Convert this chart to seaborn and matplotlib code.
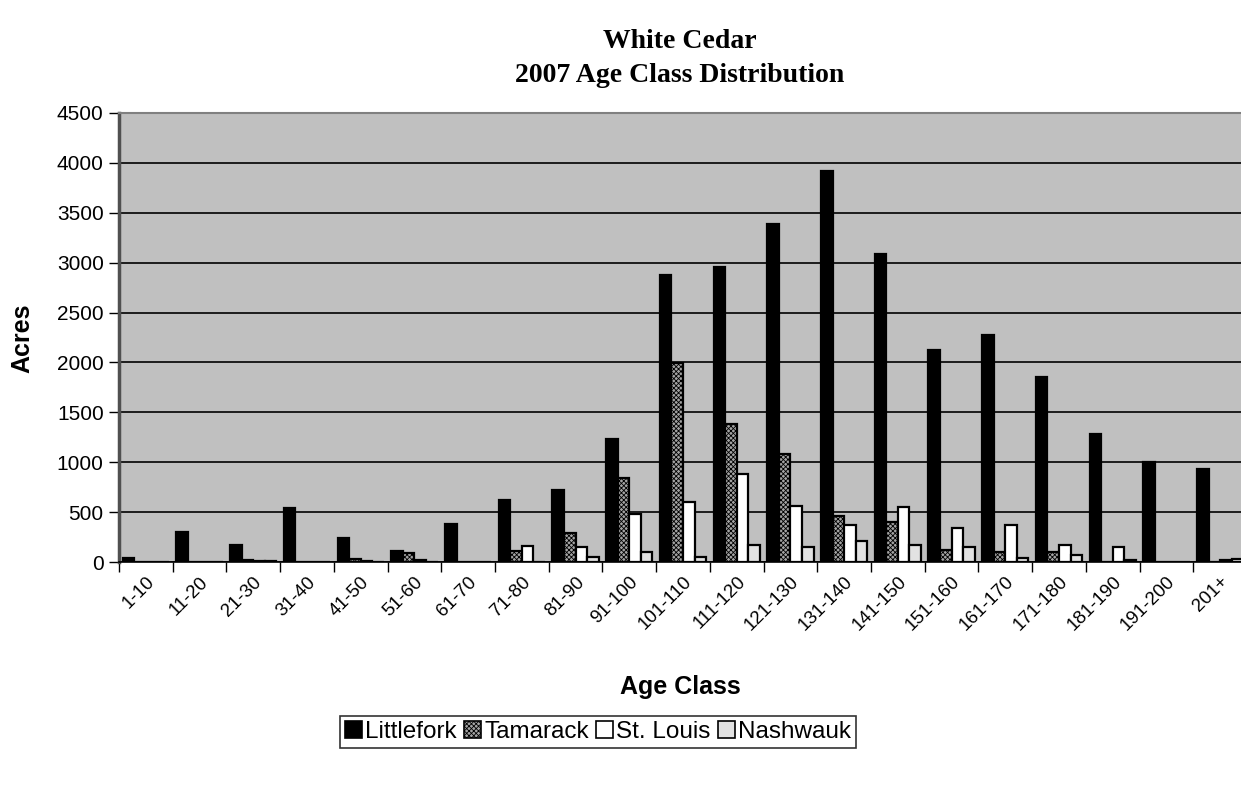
import matplotlib
matplotlib.use("Agg")
import matplotlib.pyplot as plt
import numpy as np
import pandas as pd
import seaborn as sns
from matplotlib.patches import Patch
from matplotlib.ticker import MultipleLocator, FixedLocator

age_classes = ["1-10", "11-20", "21-30", "31-40", "41-50", "51-60", "61-70",
               "71-80", "81-90", "91-100", "101-110", "111-120", "121-130",
               "131-140", "141-150", "151-160", "161-170", "171-180",
               "181-190", "191-200", "201+"]
districts = ["Littlefork", "Tamarack", "St. Louis", "Nashwauk"]

littlefork = [40, 300, 175, 540, 240, 115, 385, 625, 725, 1235, 2880, 2960,
              3390, 3915, 3090, 2120, 2275, 1855, 1280, 1005, 935]
tamarack = [0, 0, 25, 0, 35, 95, 0, 115, 290, 840, 1990, 1380,
            1080, 465, 400, 125, 100, 100, 0, 0, 0]
st_louis = [0, 0, 15, 0, 10, 20, 0, 160, 150, 480, 600, 880,
            560, 370, 555, 340, 375, 170, 155, 0, 25]
nashwauk = [0, 0, 15, 0, 0, 0, 0, 0, 55, 100, 55, 175,
            150, 210, 170, 155, 40, 70, 20, 0, 35]

df = pd.DataFrame({
    "Age Class": np.tile(age_classes, 4),
    "District": np.repeat(districts, len(age_classes)),
    "Acres": littlefork + tamarack + st_louis + nashwauk,
})

sans = ["Liberation Sans", "DejaVu Sans"]
serif = ["Liberation Serif", "DejaVu Serif"]

sns.set_theme(style="white")
plt.rcParams["font.family"] = sans
plt.rcParams.update({
    "text.color": "black", "axes.labelcolor": "black",
    "xtick.color": "black", "ytick.color": "black",
    "hatch.linewidth": 0.6, "hatch.color": "#404040",
})

W, H = 1241, 802
fig = plt.figure(figsize=(W / 100, H / 100), dpi=100)
x0, x1 = 119, 1247
y_top, y_bot = 112.7, 562.3
ax = fig.add_axes([x0 / W, 1 - y_bot / H, (x1 - x0) / W, (y_bot - y_top) / H])
ax.set_facecolor("#c0c0c0")

colors = {"Littlefork": "#000000", "Tamarack": "#a4a4a4",
          "St. Louis": "#ffffff", "Nashwauk": "#e2e2e2"}
tam_hatch = "xxxxxxx"
sns.barplot(data=df, x="Age Class", y="Acres", hue="District",
            hue_order=districts, order=age_classes, palette=colors,
            width=0.86, gap=0, edgecolor="black", linewidth=1.6,
            saturation=1, legend=False, ax=ax)

# hatch the Tamarack bars
for cont, name in zip(ax.containers, districts):
    if name == "Tamarack":
        for bar in cont:
            bar.set_hatch(tam_hatch)

ax.set_ylim(0, 4500)
ax.set_xlim(-0.5, len(age_classes) - 0.5)
ax.yaxis.set_major_locator(MultipleLocator(500))
ax.grid(axis="y", color="black", linewidth=1.2)
ax.set_axisbelow(True)

for side in ["top", "right"]:
    ax.spines[side].set_color("#808080")
    ax.spines[side].set_linewidth(1.5)
ax.spines["bottom"].set_color("black")
ax.spines["bottom"].set_linewidth(1.2)
ax.spines["left"].set_color("#505050")
ax.spines["left"].set_linewidth(2.5)

# tick marks on category boundaries, labels under category centres
ax.xaxis.set_major_locator(FixedLocator(np.arange(len(age_classes))))
ax.set_xticklabels(age_classes, rotation=45, ha="right",
                   rotation_mode="anchor", fontsize=13.5)
ax.tick_params(axis="x", which="major", length=0, pad=8)
ax.xaxis.set_minor_locator(FixedLocator(np.arange(len(age_classes) + 1) - 0.5))
ax.tick_params(axis="x", which="minor", bottom=True, length=7, width=1,
               color="black")
ax.tick_params(axis="y", left=True, length=7, width=1, color="black",
               labelsize=15, pad=4)

ax.set_xlabel("")
ax.set_ylabel("")
fig.text(22 / W, 1 - 338 / H, "Acres", rotation=90, ha="center",
         va="center", fontsize=18, fontweight="bold")
fig.text(680 / W, 1 - 687 / H, "Age Class", ha="center", va="center",
         fontsize=18, fontweight="bold")

fig.text(680 / W, 1 - 42 / H, "White Cedar", ha="center", va="center",
         fontsize=20, fontweight="bold", family=serif)
fig.text(680 / W, 1 - 76 / H, "2007 Age Class Distribution", ha="center",
         va="center", fontsize=20, fontweight="bold", family=serif)

handles = []
for name in districts:
    handles.append(Patch(facecolor=colors[name], edgecolor="black",
                         linewidth=1.2,
                         hatch=tam_hatch if name == "Tamarack" else None))
leg = fig.legend(handles, districts, loc="center",
                 bbox_to_anchor=(598 / W, 1 - 732 / H), ncol=4,
                 frameon=True, fontsize=17.5, handlelength=0.7,
                 handleheight=0.7, handletextpad=0.12, columnspacing=0.3,
                 borderpad=0.22, borderaxespad=0, fancybox=False)
leg.get_frame().set_edgecolor("black")
leg.get_frame().set_linewidth(1.2)

fig.savefig("out.png", dpi=100, facecolor="white")
